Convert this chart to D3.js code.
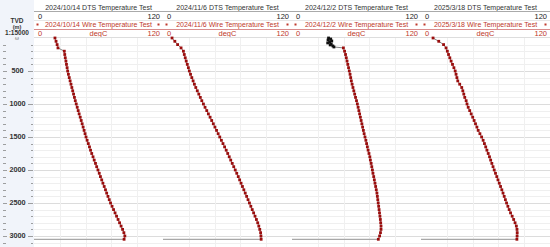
<!DOCTYPE html>
<html><head><meta charset="utf-8">
<script src="https://cdn.jsdelivr.net/npm/d3@7"></script>
<style>body{margin:0;background:#fff}svg{display:block;font-family:"Liberation Sans",Arial,sans-serif}</style>
</head><body>
<svg id="c" width="550" height="247"></svg>
<script>
// ---------- data ----------
const dates = ["2024/10/14", "2024/11/6", "2024/12/2", "2025/3/18"];
const tempDomain = [0, 120];
const unitLabel = "degC";
const depthLabel = ["TVD", "(m)", "1:15000"];
const depthTicks = [500, 1000, 1500, 2000, 2500, 3000];
const depths = [0,50,100,150,200,250,300,350,400,450,500,550,600,650,700,750,800,850,900,950,
  1000,1050,1100,1150,1200,1250,1300,1350,1400,1450,1500,1550,1600,1650,1700,1750,1800,1850,1900,1950,
  2000,2050,2100,2150,2200,2250,2300,2350,2400,2450,2500,2550,2600,2650,2700,2750,2800,2850,2900,2950,
  3000,3050];
const temp1 = [19.5,20.5,21.5,22.3,28.2,28.6,29.1,29.7,30.2,30.8,31.3,32.0,32.8,33.6,34.4,35.2,36.0,36.8,37.6,38.4,
  39.3,40.2,41.1,42.0,43.0,43.9,44.8,45.7,46.6,47.5,48.4,49.4,50.5,51.6,52.6,53.7,54.9,56.0,57.2,58.3,
  59.5,60.7,61.8,63.0,64.1,65.3,66.5,67.6,68.8,70.0,71.2,72.6,74.0,75.4,76.8,78.2,79.6,81.0,82.4,83.6,
  84.5,83.8];
const temp2 = [8.4,11.0,13.6,16.8,19.0,19.8,20.7,21.6,22.6,23.6,24.5,25.6,26.8,28.0,29.2,30.5,31.9,33.3,34.7,36.1,
  37.6,39.1,40.7,42.2,43.8,45.3,46.8,48.3,49.8,51.3,52.8,54.3,55.8,57.3,58.8,60.2,61.6,63.0,64.4,65.8,
  67.2,68.6,70.0,71.3,72.6,73.9,75.2,76.5,77.8,79.1,80.4,81.7,83.0,84.3,85.6,86.9,88.1,89.1,90.0,90.8,
  91.1,91.3];
const temp3 = [null,null,null,47.8,48.9,49.8,50.5,51.2,51.9,52.6,53.3,54.0,54.6,55.2,55.9,56.7,57.5,58.3,59.1,60.0,
  60.8,61.5,62.2,62.9,63.6,64.3,65.0,65.7,66.4,67.1,67.9,68.7,69.4,70.1,70.8,71.6,72.4,72.9,73.6,74.2,
  74.8,75.3,76.0,76.6,77.2,77.8,78.4,79.0,79.4,79.8,80.2,80.6,81.0,81.4,81.8,82.2,82.5,82.8,82.8,82.3,
  81.5,80.3];
const depth3Early = [0,15,30,45,60,75,90,105,120,136];
const temp3Early = [34.0,36.0,33.5,37.0,35.0,33.2,36.5,35.5,38.0,39.0];
const temp4 = [11.2,16.5,21.0,23.3,24.5,25.6,26.8,28.0,29.3,30.6,31.8,32.6,33.4,34.2,36.0,37.9,38.9,39.8,40.7,42.0,
  42.8,43.9,45.3,46.7,48.1,49.4,50.7,52.0,53.2,54.8,56.4,57.8,59.0,60.2,61.3,62.5,63.7,64.8,65.9,67.0,
  68.1,69.3,70.5,71.6,72.8,74.0,75.2,76.3,77.4,78.5,79.6,80.8,82.0,83.3,84.8,86.2,87.5,88.7,89.3,89.5,
  89.4,89.2];
const series = [temp1, temp2, temp3, temp4];

// ---------- layout ----------
const W = 550, H = 247;
const trackLeft = 34, trackW = 129, headerH = 38;
const svg = d3.select("#c");
const y = d3.scaleLinear().domain([0, 3167]).range([headerH, H]);

// depth track
svg.append("rect").attr("x", 0).attr("y", 0).attr("width", trackLeft).attr("height", H).attr("fill", "#f1f4fa");
const dt = svg.append("g").attr("font-size", 6.5).attr("font-weight", "bold").attr("fill", "#333").attr("text-anchor", "middle");
dt.append("text").attr("x", 17).attr("y", 23).text(depthLabel[0]);
dt.append("text").attr("x", 17).attr("y", 28.5).attr("font-size", 5.5).text(depthLabel[1]);
dt.append("text").attr("x", 17).attr("y", 34.5).text(depthLabel[2]);
dt.append("text").attr("x", 17).attr("y", 40).attr("font-size", 5).attr("font-weight", "normal").attr("fill", "#555").text("ω");

const minorTicks = d3.range(100, 3150, 100);
svg.append("g").selectAll("line.l").data(minorTicks).join("line")
  .attr("x1", 3).attr("x2", d => d % 500 === 0 ? 7 : 6)
  .attr("y1", d => Math.round(y(d)) + 0.5).attr("y2", d => Math.round(y(d)) + 0.5)
  .attr("stroke", "#888").attr("stroke-width", 0.8);
svg.append("g").selectAll("line.r").data(minorTicks).join("line")
  .attr("x1", d => d % 500 === 0 ? 28 : 31).attr("x2", 33)
  .attr("y1", d => Math.round(y(d)) + 0.5).attr("y2", d => Math.round(y(d)) + 0.5)
  .attr("stroke", "#888").attr("stroke-width", 0.8);
svg.append("g").attr("font-size", 7.3).attr("font-weight", "bold").attr("fill", "#333").attr("text-anchor", "middle")
  .selectAll("text").data(depthTicks).join("text")
  .attr("x", 17.5).attr("y", d => y(d) + 2.5)
  .attr("stroke", "#f1f4fa").attr("stroke-width", 2).attr("paint-order", "stroke")
  .text(d => d);

// panels
const red = "#c0392b";
const hf = 7.0, nf = 7.5;
dates.forEach((date, i) => {
  const x0 = trackLeft + i * trackW, x1 = x0 + trackW;
  const x = d3.scaleLinear().domain(tempDomain).range([x0, x1]);
  const g = svg.append("g");

  // grid
  g.selectAll("line.h").data(minorTicks).join("line")
    .attr("x1", x0).attr("x2", x1)
    .attr("y1", d => Math.round(y(d)) + 0.5).attr("y2", d => Math.round(y(d)) + 0.5)
    .attr("stroke", d => d % 500 === 0 ? "#dcdcdc" : "#efefef").attr("stroke-width", 1);
  g.selectAll("line.v").data([24, 48, 72, 96]).join("line")
    .attr("x1", d => Math.round(x(d)) + 0.5).attr("x2", d => Math.round(x(d)) + 0.5)
    .attr("y1", headerH).attr("y2", H)
    .attr("stroke", "#f0f0f0");

  // header
  g.append("text").attr("x", (x0 + x1) / 2).attr("y", 9.5).attr("text-anchor", "middle")
    .attr("font-size", hf).attr("fill", "#333").text(date + "  DTS Temperature Test");
  g.append("line").attr("x1", x0).attr("x2", x1).attr("y1", 11.5).attr("y2", 11.5).attr("stroke", "#aaa");
  g.append("text").attr("x", x0 + 4).attr("y", 18.5).attr("font-size", nf).attr("fill", "#222").text(tempDomain[0]);
  g.append("text").attr("x", x1 - 3).attr("y", 18.5).attr("text-anchor", "end").attr("font-size", nf).attr("fill", "#222").text(tempDomain[1]);
  g.append("line").attr("x1", x0).attr("x2", x1).attr("y1", 20.5).attr("y2", 20.5).attr("stroke", "#e6e6e6");
  g.append("text").attr("x", (x0 + x1) / 2).attr("y", 27).attr("text-anchor", "middle")
    .attr("font-size", hf).attr("fill", red).text(date + " Wire Temperature Test");
  g.append("rect").attr("x", x0 + 2.5).attr("y", 23.5).attr("width", 2).attr("height", 2).attr("fill", red);
  g.append("rect").attr("x", x1 - 5.5).attr("y", 23.5).attr("width", 2).attr("height", 2).attr("fill", red);
  g.append("line").attr("x1", x0).attr("x2", x1).attr("y1", 29.5).attr("y2", 29.5).attr("stroke", "#d98c8c");
  g.append("text").attr("x", x0 + 4).attr("y", 35.5).attr("font-size", nf).attr("fill", red).text(tempDomain[0]);
  g.append("text").attr("x", (x0 + x1) / 2).attr("y", 35.5).attr("text-anchor", "middle").attr("font-size", nf).attr("fill", red).text(unitLabel);
  g.append("text").attr("x", x1 - 3).attr("y", 35.5).attr("text-anchor", "end").attr("font-size", nf).attr("fill", red).text(tempDomain[1]);
  g.append("line").attr("x1", x0).attr("x2", x1).attr("y1", 37.5).attr("y2", 37.5).attr("stroke", "#ddd");

  // curve
  const vals = series[i];
  let pts = depths.map((d, k) => ({ d, t: vals[k] })).filter(p => p.t != null);
  let early = [];
  if (i === 2) early = depth3Early.map((d, k) => ({ d, t: temp3Early[k] }));
  const all = early.concat(pts);
  const last = all[all.length - 1];
  const line = d3.line().x(p => x(p.t)).y(p => y(p.d));
  g.append("path").attr("d", line(all)).attr("fill", "none").attr("stroke", "#777").attr("stroke-width", 0.9);
  // bottom return to scale minimum
  g.append("path").attr("d", line([last, { d: last.d, t: tempDomain[0] }]))
    .attr("fill", "none").attr("stroke", "#a8a8a8").attr("stroke-width", 1.2);
  g.selectAll("rect.e").data(early).join("rect")
    .attr("x", p => x(p.t) - 1.4).attr("y", p => y(p.d) - 1.4).attr("width", 2.8).attr("height", 2.8).attr("fill", "#111");
  g.selectAll("rect.m").data(pts).join("rect")
    .attr("x", p => x(p.t) - 1.4).attr("y", p => y(p.d) - 1.4).attr("width", 2.8).attr("height", 2.8).attr("fill", "#9b0d0d");
});
</script>
</body></html>
